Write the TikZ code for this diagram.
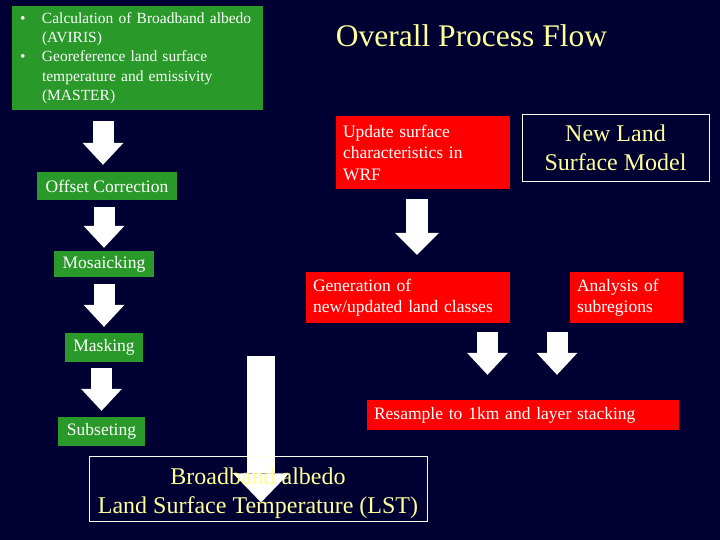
\documentclass[tikz,border=0pt]{standalone}
\usepackage{fontspec}
\setmainfont{Liberation Serif}
\usepackage{tikz}
\usetikzlibrary{arrows.meta}
\usetikzlibrary{positioning}
\definecolor{navy}{RGB}{0,0,51}
\definecolor{slidegreen}{RGB}{41,153,41}
\definecolor{slidered}{RGB}{255,0,0}
\definecolor{paleyellow}{RGB}{255,255,153}
\pgfdeclarelayer{bg}
\pgfdeclarelayer{under}
\pgfsetlayers{bg,under,main}
\tikzset{greenbox/.style = {fill=slidegreen, text=white, inner sep=0pt,
                            font=\fontsize{17.5}{21.5}\selectfont},
         redbox/.style = {fill=slidered, text=white, inner xsep=7pt, inner ysep=0pt,
                          align=left, font=\fontsize{17.5}{21.5}\selectfont},
         outlinebox/.style = {draw=white!85!paleyellow, line width=0.8pt, text=paleyellow,
                              inner sep=0pt, align=center, font=\fontsize{24}{29}\selectfont},
         blockarrow/.style = {white, line width=21pt,
                              -{Triangle[width=41pt, length=22pt, line width=0pt]}},
         widearrow/.style = {white, line width=22pt,
                             -{Triangle[width=44pt, length=22pt, line width=0pt]}},
         bigarrow/.style = {white, line width=28pt,
                            -{Triangle[width=56pt, length=29pt, line width=0pt]}}}
\begin{document}
\begin{tikzpicture}[x=1pt, y=-1pt]
  \useasboundingbox (0,0) rectangle (720,540);
  \begin{pgfonlayer}{bg}
    \fill[navy] (0,0) rectangle (720,540);
  \end{pgfonlayer}

  \node[text=paleyellow, font=\fontsize{31.5}{36}\selectfont] (title) at (471.5,36) {Overall Process Flow};

  \node[fill=slidegreen, text=white, inner xsep=8pt, inner ysep=0pt, text width=235pt,
        minimum height=104pt, align=left, font=\fontsize{15.5}{19.3}\selectfont] (calc) at (137.5,58)
    {\makebox[22pt][l]{\textbullet}Calculation of Broadband albedo\\
     \hspace*{22pt}(AVIRIS)\\
     \makebox[22pt][l]{\textbullet}Georeference land surface\\
     \hspace*{22pt}temperature and emissivity\\
     \hspace*{22pt}(MASTER)};

  \node[greenbox, minimum width=140pt, minimum height=28pt] (offset) at (107,186) {Offset Correction};
  \node[greenbox, minimum width=100pt, minimum height=26pt] (mosaic) at (104,264) {Mosaicking};
  \node[greenbox, minimum width=78pt, minimum height=29pt] (masking) at (104,347.5) {Masking};
  \node[greenbox, minimum width=87pt, minimum height=29pt] (subset) at (101.5,431.5) {Subseting};

  \node[redbox, text width=160pt, minimum height=73pt] (update) at (423,152.5)
    {Update surface\\characteristics in\\WRF};
  \node[outlinebox, minimum width=187pt, minimum height=67pt] (newland) at (615.5,147.5)
    {New Land\\Surface Model};
  \node[redbox, text width=190pt, minimum height=51pt] (gen) at (408,297.5)
    {Generation of\\new/updated land classes};
  \node[redbox, text width=99pt, minimum height=51pt] (anal) at (626.5,297.5)
    {Analysis of\\subregions};
  \node[redbox, text width=298pt, minimum height=30pt] (resample) at (523,415)
    {Resample to 1km and layer stacking};
  \node[outlinebox, minimum width=338pt, minimum height=65pt] (lst) at (258,488.5)
    {\rule{0pt}{26pt}Broadband albedo\\Land Surface Temperature (LST)};

  \coordinate (calcout) at ([xshift=-4pt]offset.north);
  \draw[blockarrow, shorten <=11pt, shorten >=7pt] (calcout |- calc.south) -- (calcout);
  \draw[blockarrow, shorten <=7pt, shorten >=3pt] (offset.south -| mosaic.north) -- (mosaic.north);
  \draw[blockarrow, shorten <=7pt, shorten >=6pt] (mosaic.south) -- (masking.north);
  \draw[blockarrow, shorten <=6pt, shorten >=6pt] (masking.south -| subset.north) -- (subset.north);

  \coordinate (updout) at ([xshift=-6pt]update.south);
  \draw[widearrow, shorten <=10pt, shorten >=17pt] (updout) -- (updout |- gen.north);

  \coordinate (resin1) at ([xshift=-35.5pt]resample.north);
  \coordinate (resin2) at ([xshift=34pt]resample.north);
  \draw[blockarrow, shorten <=9pt, shorten >=25pt] (resin1 |- gen.south) -- (resin1);
  \draw[blockarrow, shorten <=9pt, shorten >=25pt] (resin2 |- anal.south) -- (resin2);

  \coordinate (lstin) at (261,356);
  \begin{pgfonlayer}{under}
    \draw[bigarrow, shorten >=19pt] (lstin) -- (lstin |- lst.south);
  \end{pgfonlayer}
\end{tikzpicture}
\end{document}
